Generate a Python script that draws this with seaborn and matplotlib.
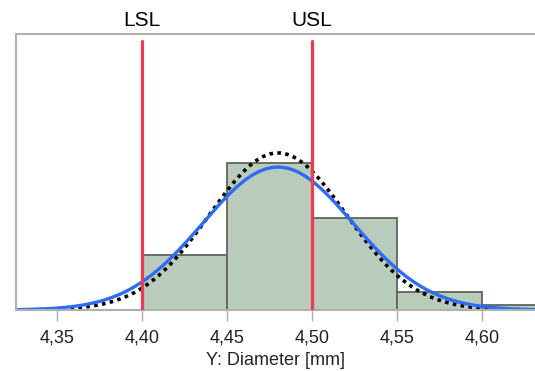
import numpy as np
import pandas as pd
import matplotlib
matplotlib.use("Agg")
import matplotlib.pyplot as plt
import seaborn as sns

# Data
bin_edges = [4.40, 4.45, 4.50, 4.55, 4.60, 4.65]
bin_counts = [12, 32, 20, 4, 1]
lsl, usl = 4.40, 4.50
fit_mean, fit_sd = 4.48, 0.0443          # blue: overall fit
within_mean, within_sd = 4.48, 0.0403    # dotted: within fit
tick_vals = [4.35, 4.40, 4.45, 4.50, 4.55, 4.60]
tick_labels = ["4,35", "4,40", "4,45", "4,50", "4,55", "4,60"]
xlabel = "Y: Diameter [mm]"

sns.set_theme(style="white")
plt.rcParams["font.family"] = ["Liberation Sans", "DejaVu Sans"]

fig = plt.figure(figsize=(5.35, 3.71), dpi=100)
ax = fig.add_axes([16/535, 61/371, 519/535, 276/371])

centers = [(a + b) / 2 for a, b in zip(bin_edges[:-1], bin_edges[1:])]
df = pd.DataFrame({"x": centers, "w": bin_counts})
sns.histplot(data=df, x="x", weights="w", bins=bin_edges, ax=ax,
             color="#b9cbbb", edgecolor="#5d665c", linewidth=1.3, alpha=1)

n = sum(bin_counts)
bw = bin_edges[1] - bin_edges[0]
xs = np.linspace(4.30, 4.70, 400)
def curve(m, s):
    return n * bw * np.exp(-0.5 * ((xs - m) / s) ** 2) / (s * np.sqrt(2 * np.pi))

sns.lineplot(x=xs, y=curve(within_mean, within_sd), ax=ax, color="black",
             linewidth=2.6, linestyle=(0, (1, 1.2)))
sns.lineplot(x=xs, y=curve(fit_mean, fit_sd), ax=ax, color="#2d6cf3",
             linewidth=2.4)

for v, lab in [(lsl, "LSL"), (usl, "USL")]:
    ax.axvline(v, ymin=0, ymax=0.975, color="#ef3a52", linewidth=2.3, zorder=5)
    ax.text(v, 1.029, lab, transform=ax.get_xaxis_transform(), ha="center",
            va="baseline", fontsize=15, color="black")

ax.set_xlim(4.3259, 4.6312)
ax.set_ylim(0, 60)
ax.set_xticks(tick_vals)
ax.set_xticklabels(tick_labels, fontsize=13)
ax.set_yticks([])
ax.set_ylabel("")
ax.set_xlabel(xlabel, fontsize=13, labelpad=4)
ax.tick_params(axis="x", length=8, width=1, color="#b0b0b0", bottom=True,
               pad=6, labelcolor="#222222")
for s in ["top", "left", "bottom"]:
    ax.spines[s].set_color("#b0b0b0")
    ax.spines[s].set_linewidth(1.5)
ax.spines["right"].set_visible(False)

fig.savefig("out.png", dpi=100)
